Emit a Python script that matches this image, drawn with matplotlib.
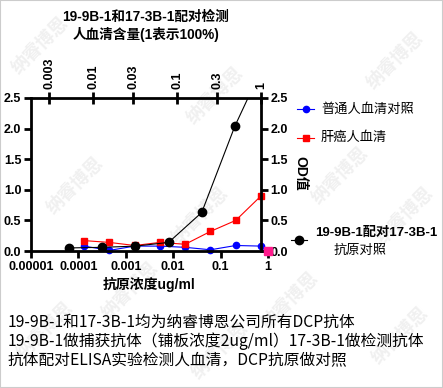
import matplotlib.pyplot as plt
from matplotlib.patches import Rectangle
from matplotlib.lines import Line2D

plt.rcParams['font.family'] = ['Liberation Sans', 'Noto Sans CJK SC']

# antigen control, bottom axis (ug/ml)
antigen_conc = [0.000064, 0.00032, 0.0016, 0.008, 0.04, 0.2, 1]
antigen_od = [0.05, 0.06, 0.08, 0.14, 0.63, 2.04, 3.2]
pink_x = [1]
pink_y = [0.0]

# serum content, top axis (1 = 100%)
serum_frac = [0.0078125, 0.015625, 0.03125, 0.0625, 0.125, 0.25, 0.5, 1]
normal_od = [0.08, 0.01, 0.08, 0.08, 0.06, 0.02, 0.09, 0.08]
liver_od = [0.17, 0.14, 0.09, 0.14, 0.11, 0.32, 0.50, 0.90]

bottom_ticks = [1e-5, 1e-4, 1e-3, 1e-2, 1e-1, 1]
bottom_labels = ['0.00001', '0.0001', '0.001', '0.01', '0.1', '1']
top_ticks = [0.003, 0.01, 0.03, 0.1, 0.3, 1]
top_labels = ['0.003', '0.01', '0.03', '0.1', '0.3', '1']
y_ticks = [0, 0.5, 1.0, 1.5, 2.0, 2.5]
y_labels = ['0.0', '0.5', '1.0', '1.5', '2.0', '2.5']

W, H = 443, 388
fig = plt.figure(figsize=(W / 100, H / 100), dpi=100)


def box(x0, y0, x1, y1):
    return [x0 / W, 1 - y1 / H, (x1 - x0) / W, (y1 - y0) / H]


# faint watermarks
for wx, wy in [(40, 45), (215, 95), (395, 60), (75, 185), (340, 175),
               (200, 215), (405, 215), (130, 290), (290, 300), (45, 330),
               (400, 335), (220, 350)]:
    fig.text(wx / W, 1 - wy / H, '纳睿博恩', rotation=45, fontsize=13,
             color='#f0f0f0', ha='center', va='center', zorder=-1,
             family='Noto Sans CJK SC', fontweight='bold')

tick_font = dict(fontsize=9, fontweight='bold')

ax = fig.add_axes(box(31, 98, 268, 251))
ax.patch.set_visible(False)
ax.set_zorder(2)
ax.set_xscale('log')
ax.set_xlim(1e-5, 1)
ax.set_ylim(0, 2.5)
ax.spines['top'].set_visible(False)
ax.spines['right'].set_visible(False)
for s in ['left', 'bottom']:
    ax.spines[s].set_linewidth(2)
ax.set_xticks(bottom_ticks)
ax.set_xticklabels(bottom_labels, **tick_font)
ax.minorticks_off()
ax.set_yticks(y_ticks)
ax.set_yticklabels(y_labels, **tick_font)
ax.tick_params(axis='both', width=2, length=5, pad=2)
ax.plot(antigen_conc, antigen_od, color='black', lw=0.8, marker='o', ms=6)
ax.plot(pink_x, pink_y, ls='none', marker='s', ms=6, color='#ff1a8c',
        clip_on=False, zorder=5)

ax2 = fig.add_axes(box(31, 98, 261, 251))
ax2.patch.set_visible(False)
ax2.set_zorder(1)
ax2.set_xscale('log')
ax2.set_xlim(10 ** -2.74, 1)
ax2.set_ylim(0, 2.5)
ax2.spines['left'].set_visible(False)
ax2.spines['bottom'].set_visible(False)
for s in ['top', 'right']:
    ax2.spines[s].set_linewidth(2)
ax2.xaxis.tick_top()
ax2.yaxis.tick_right()
ax2.set_xticks(top_ticks)
ax2.set_xticklabels(top_labels, rotation=90, **tick_font)
ax2.minorticks_off()
ax2.set_yticks(y_ticks)
ax2.set_yticklabels(y_labels, **tick_font)
ax2.tick_params(axis='x', direction='inout', width=2, length=9, pad=2)
ax2.tick_params(axis='y', width=2, length=5, pad=2)
ax2.plot(serum_frac, normal_od, color='#0000ff', lw=0.8, marker='o', ms=4.5,
         clip_on=False)
ax2.plot(serum_frac, liver_od, color='#ff0000', lw=0.8, marker='s', ms=5,
         clip_on=False)

fig.text(149.5 / W, 1 - 284 / H, '抗原浓度ug/ml', ha='center', va='center',
         fontsize=10, fontweight='bold')
fig.text(300 / W, 1 - 173 / H, 'OD值', ha='center', va='center', rotation=-90,
         fontsize=10, fontweight='bold')

fig.text(146 / W, 1 - 17 / H, '19-9B-1和17-3B-1配对检测', ha='center',
         va='center', fontsize=9.8, fontweight='bold')
fig.text(146 / W, 1 - 35 / H, '人血清含量(1表示100%)', ha='center',
         va='center', fontsize=9.8, fontweight='bold')

# legend
legend_rows = [(109, '#0000ff', 'o', 4.5, '普通人血清对照'),
               (138, '#ff0000', 's', 5, '肝癌人血清')]
for ly, col, mk, ms, txt in legend_rows:
    yy = 1 - ly / H
    fig.add_artist(Line2D([297 / W, 314 / W], [yy, yy], color=col, lw=0.8))
    fig.add_artist(Line2D([305.5 / W], [yy], color=col, marker=mk, ms=ms))
    fig.text(321 / W, yy, txt, va='center', fontsize=9.5)
yb = 1 - 240 / H
fig.add_artist(Line2D([291 / W, 307 / W], [yb, yb], color='black', lw=0.8))
fig.add_artist(Line2D([299 / W], [yb], color='black', marker='o', ms=6))
fig.text(376 / W, 1 - 233 / H, '19-9B-1配对17-3B-1', ha='center', va='center',
         fontsize=9.5, fontweight='bold')
fig.text(360 / W, 1 - 251 / H, '抗原对照', ha='center', va='center',
         fontsize=9.5)

notes = ['19-9B-1和17-3B-1均为纳睿博恩公司所有DCP抗体',
         '19-9B-1做捕获抗体（铺板浓度2ug/ml）17-3B-1做检测抗体',
         '抗体配对ELISA实验检测人血清，DCP抗原做对照']
for i, line in enumerate(notes):
    fig.text(8 / W, 1 - (322 + 19.5 * i) / H, line, va='center', fontsize=11.3,
             family=['Noto Sans CJK SC'])

fig.add_artist(Rectangle((0, 0), 1, 1, transform=fig.transFigure, fill=False,
                         ec='#cccccc', lw=1.5))

fig.savefig('out.png', dpi=100)
